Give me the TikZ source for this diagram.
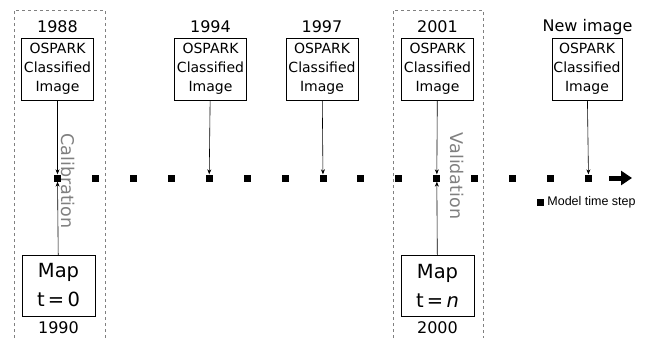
\documentclass[tikz,border=0pt]{standalone}
\usepackage{fontspec}
\setmainfont{DejaVu Sans}
\newfontfamily\legendfont{Liberation Sans}
\usetikzlibrary{arrows.meta}

\begin{document}
\begin{tikzpicture}[x=1pt, y=-1pt,
    image/.style={draw, rectangle, minimum width=72pt, minimum height=62pt, inner sep=1pt, align=center, font=\fontsize{14}{19}\selectfont},
    year/.style={font=\fontsize{16}{18}\selectfont},
    mapbox/.style={draw, rectangle, minimum width=73pt, minimum height=61pt, inner sep=1pt, align=center, font=\fontsize{19.5}{29}\selectfont},
    tick/.style={fill=black, rectangle, minimum size=7pt, inner sep=0pt},
    arrow/.style={line width=0.6pt,->,>={Stealth[length=5pt,width=4pt]}},
    phase/.style={rotate=-90, text=gray, font=\fontsize{17.5}{20}\selectfont},
    window/.style={dashed, gray, thin},
    legend/.style={anchor=west, inner xsep=3.5pt, inner ysep=2pt, font=\legendfont\fontsize{12.5}{15}\selectfont}
]
\useasboundingbox (0,0) rectangle (651,338);

% Windows
\draw[window] (14,338) -- (14,10) -- (105,10) -- (105,338);
\draw[window] (393,338) -- (393,10) -- (483,10) -- (483,338);

% Time steps
\node[tick] (t0) at (57.5,178) {};
\node[tick] (t1) at (95.4,178) {};
\node[tick] (t2) at (133.4,178) {};
\node[tick] (t3) at (171.3,178) {};
\node[tick] (t4) at (209.2,178) {};
\node[tick] (t5) at (247.2,178) {};
\node[tick] (t6) at (285.1,178) {};
\node[tick] (t7) at (323.0,178) {};
\node[tick] (t8) at (360.9,178) {};
\node[tick] (t9) at (398.9,178) {};
\node[tick] (t10) at (436.8,178) {};
\node[tick] (t11) at (474.7,178) {};
\node[tick] (t12) at (512.7,178) {};
\node[tick] (t13) at (550.6,178) {};
\node[tick] (t14) at (588.5,178) {};
\coordinate (TailEnd) at (609,178);
\coordinate (TimeTip) at (632,178);
\draw[line width=5pt, -{Triangle[length=11pt,width=14pt]}] (TailEnd) -- (TimeTip);

% Classified images
\node[image] (I1988) at (57.5,69) {OSPARK\\Classified\\Image};
\node[image] (I1994) at (210.5,69) {OSPARK\\Classified\\Image};
\node[image] (I1997) at (322,69) {OSPARK\\Classified\\Image};
\node[image] (I2001) at (437.5,69) {OSPARK\\Classified\\Image};
\node[image, minimum width=70pt] (INew) at (587,69) {OSPARK\\Classified\\Image};

\node[year] (Y1988) at (57.5,27) {1988};
\node[year] (Y1994) at (210.5,27) {1994};
\node[year] (Y1997) at (322,27) {1997};
\node[year] (Y2001) at (437.5,27) {2001};
\node[year] (YNew) at (587.5,27) {New image};

% Maps
\node[mapbox] (M0) at (58.5,285.5) {Map\\t\,=\,0};
\node[mapbox] (Mn) at (437.5,285.5) {Map\\t\,=\,\textit{n}};
\node[year] (Y1990) at (58.5,328) {1990};
\node[year] (Y2000) at (437.5,328) {2000};

% Arrows
\draw [arrow] (I1988) -- (t0);
\draw [arrow] (I1994) -- (t4);
\draw [arrow] (I1997) -- (t7);
\draw [arrow] (I2001) -- (t10);
\draw [arrow] (INew) -- (t14);
\draw [arrow] (M0) -- (t0);
\draw [arrow] (Mn) -- (t10);

\node[phase] (Calib) at (68,181) {Calibration};
\node[phase] (Valid) at (457,176) {Validation};

% Legend
\node[tick] (Key) at (540,202) {};
\node[legend] (KeyText) at (Key.east) {Model time step};

\end{tikzpicture}
\end{document}
